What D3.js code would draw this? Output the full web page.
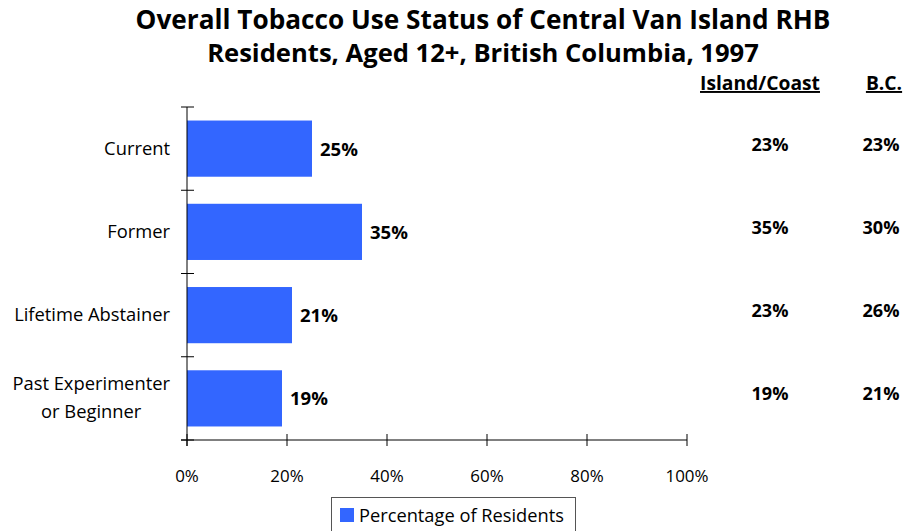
<!DOCTYPE html>
<html><head><meta charset="utf-8">
<script src="https://cdn.jsdelivr.net/npm/d3@7"></script>
<style>body{margin:0;background:#fff}svg{display:block}</style>
</head><body><svg id="c" width="908" height="531"></svg>
<script>
const categories = ["Current", "Former", "Lifetime Abstainer", "Past Experimenter\nor Beginner"];
const residents = [25, 35, 21, 19];
const islandCoast = [23, 35, 23, 19];
const bc = [23, 30, 26, 21];
const xTicks = [0, 20, 40, 60, 80, 100];
const titleLines = ["Overall Tobacco Use Status of Central Van Island RHB", "Residents, Aged 12+, British Columbia, 1997"];
const legendLabel = "Percentage of Residents";

(function () {
const svg = d3.select("#c");
const font = "'Open Sans',Lato,sans-serif";
const pl = 187, pr = 687, pt = 107, pb = 440;
const x = d3.scaleLinear().domain([0, 100]).range([pl, pr]);
const y = d3.scaleBand().domain(categories).range([pt, pb]).paddingInner(0.325).paddingOuter(0.1625);

// size a text selection so that a reference node reaches a target width
function fit(sel, refNode, target) {
  const w = refNode.getComputedTextLength();
  const fs = parseFloat(d3.select(refNode).attr("font-size"));
  sel.attr("font-size", fs * target / w);
}

const titles = svg.selectAll("text.title").data(titleLines).join("text")
  .attr("x", 483).attr("y", (d, i) => 29 + i * 33)
  .attr("text-anchor", "middle").attr("font-family", font)
  .attr("font-weight", "bold").attr("font-size", 24).attr("fill", "#000").text(d => d);
titles.each(function (d, i) { fit(d3.select(this), this, i === 0 ? 695 : 552); });

svg.selectAll("rect.bar").data(residents).join("rect")
  .attr("x", x(0)).attr("y", (d, i) => y(categories[i]))
  .attr("width", d => x(d) - x(0)).attr("height", y.bandwidth()).attr("fill", "#3366FF");

const vals = svg.selectAll("text.val").data(residents).join("text")
  .attr("x", d => x(d) + 8).attr("y", (d, i) => y(categories[i]) + y.bandwidth() / 2 + 7)
  .attr("font-family", font).attr("font-weight", "bold").attr("font-size", 17)
  .text(d => d + "%");
fit(vals, vals.nodes()[0], 38);

const xAxis = svg.append("g").attr("transform", `translate(0,${pb})`);
xAxis.append("line").attr("x1", pl - 6).attr("x2", pr).attr("stroke", "#000");
xAxis.selectAll("line.t").data(xTicks).join("line")
  .attr("x1", d => x(d)).attr("x2", d => x(d)).attr("y1", -6).attr("y2", 6).attr("stroke", "#000");
const tl = xAxis.selectAll("text").data(xTicks).join("text")
  .attr("x", d => x(d)).attr("y", 42).attr("text-anchor", "middle")
  .attr("font-family", font).attr("font-size", 18).text(d => d + "%");
fit(tl, tl.nodes()[5], 43);

const yAxis = svg.append("g");
yAxis.append("line").attr("x1", pl).attr("x2", pl).attr("y1", pt).attr("y2", pb + 6).attr("stroke", "#000");
const yTickPos = categories.map(c => y(c) - y.step() * y.paddingInner() / 2).concat([pb]);
yTickPos[0] = pt;
yAxis.selectAll("line.t").data(yTickPos).join("line")
  .attr("x1", pl - 6).attr("x2", pl + 7).attr("y1", d => d).attr("y2", d => d).attr("stroke", "#000");

const cats = svg.selectAll("text.cat").data(categories).join("text")
  .attr("class", "cat").attr("font-family", font).attr("font-size", 18)
  .each(function (d) {
    const lines = d.split("\n");
    const cy = y(d) + y.bandwidth() / 2;
    d3.select(this).selectAll("tspan").data(lines).join("tspan")
      .attr("x", 0).attr("y", (l, i) => cy + 6 + (i - (lines.length - 1) / 2) * 28).text(l => l);
  });
fit(cats, cats.nodes()[2], 156);
cats.each(function () {
  const t = d3.select(this);
  const spans = t.selectAll("tspan").nodes();
  const ws = spans.map(s => s.getComputedTextLength());
  const maxW = d3.max(ws);
  spans.forEach((s, i) => d3.select(s).attr("x", 170 - maxW / 2).attr("text-anchor", "middle"));
});

const headers = [{t: "Island/Coast", x: 760}, {t: "B.C.", x: 884}];
const hd = svg.selectAll("text.hdr").data(headers).join("text")
  .attr("x", d => d.x).attr("y", 90).attr("text-anchor", "middle")
  .attr("font-family", font).attr("font-weight", "bold").attr("font-size", 15)
  .attr("text-decoration", "underline").text(d => d.t);
fit(hd, hd.nodes()[0], 120);
const cols = [{v: islandCoast, x: 770}, {v: bc, x: 881}];
cols.forEach(c => {
  const t = svg.append("g").selectAll("text").data(c.v).join("text")
    .attr("x", c.x).attr("y", (d, i) => y(categories[i]) + y.bandwidth() / 2 + 2)
    .attr("text-anchor", "middle").attr("font-family", font).attr("font-weight", "bold")
    .attr("font-size", 16).text(d => d + "%");
  fit(t, t.nodes()[0], 37);
});

const lg = svg.append("g");
lg.append("rect").attr("x", 331.5).attr("y", 497.5).attr("width", 244).attr("height", 40)
  .attr("fill", "#fff").attr("stroke", "#555");
lg.append("rect").attr("x", 340).attr("y", 508).attr("width", 14).attr("height", 14).attr("fill", "#3366FF");
const lt = lg.append("text").attr("x", 359).attr("y", 522).attr("font-family", font).attr("font-size", 18).text(legendLabel);
fit(lt, lt.node(), 205);
})();
</script></body></html>
